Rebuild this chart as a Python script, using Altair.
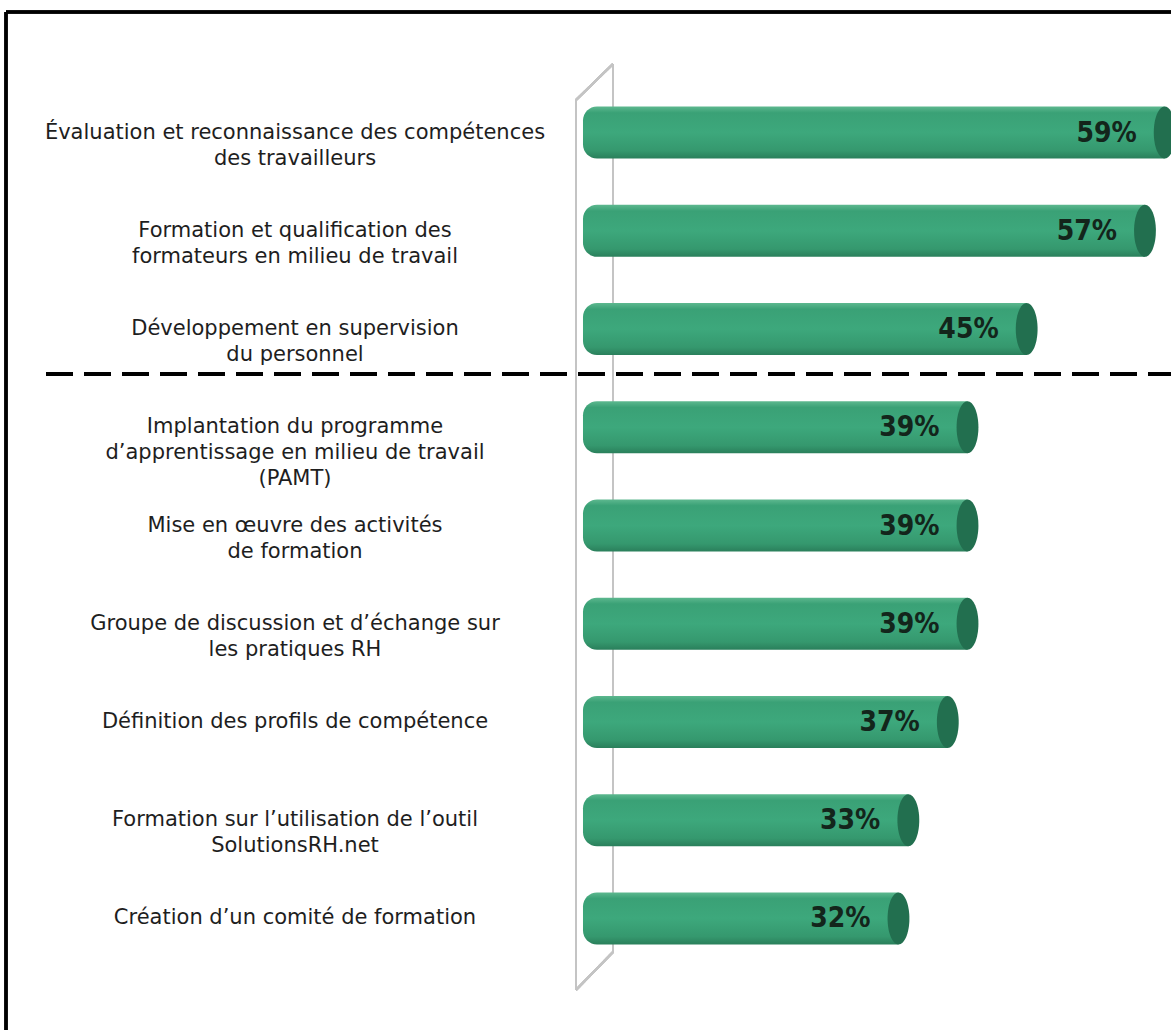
import altair as alt
import pandas as pd

categories = [
    "Évaluation et reconnaissance des compétences\ndes travailleurs",
    "Formation et qualification des\nformateurs en milieu de travail",
    "Développement en supervision\ndu personnel",
    "Implantation du programme\nd’apprentissage en milieu de travail\n(PAMT)",
    "Mise en œuvre des activités\nde formation",
    "Groupe de discussion et d’échange sur\nles pratiques RH",
    "Définition des profils de compétence",
    "Formation sur l’utilisation de l’outil\nSolutionsRH.net",
    "Création d’un comité de formation",
]
values = [59, 57, 45, 39, 39, 39, 37, 33, 32]

df = pd.DataFrame({"cat": categories, "value": values})

W, H = 1171, 1030
xscale = alt.Scale(domain=[-59.13, 59.64], nice=False, zero=False)
yscale = alt.Scale(domain=categories, range=[82, 969], paddingInner=0.47, paddingOuter=0.25)

base = alt.Chart(df)
X = alt.X("value:Q", scale=xscale, axis=None)
Y = alt.Y("cat:N", scale=yscale, axis=None, sort=categories)

grad = alt.Gradient(
    gradient="linear",
    x1=0, x2=0, y1=0, y2=1,
    stops=[
        alt.GradientStop(color="#5db88f", offset=0),
        alt.GradientStop(color="#3aa176", offset=0.12),
        alt.GradientStop(color="#3da87c", offset=0.5),
        alt.GradientStop(color="#35986e", offset=0.85),
        alt.GradientStop(color="#2a7f5b", offset=1),
    ],
)

# decorative side wall
wall_col = "#c4c4c4"
walls = [
    alt.Chart(df).mark_rule(color=wall_col, strokeWidth=2).encode(x=alt.value(576), y=alt.value(100), y2=alt.value(990)),
    alt.Chart(df).mark_rule(color=wall_col, strokeWidth=2).encode(x=alt.value(613), y=alt.value(64), y2=alt.value(952)),
    alt.Chart(df).mark_rule(color=wall_col, strokeWidth=2).encode(x=alt.value(576), x2=alt.value(613), y=alt.value(100), y2=alt.value(64)),
    alt.Chart(df).mark_rule(color=wall_col, strokeWidth=2).encode(x=alt.value(576), x2=alt.value(613), y=alt.value(990), y2=alt.value(952)),
]

bars = base.mark_bar(
    color=grad, cornerRadiusTopLeft=14, cornerRadiusBottomLeft=14
).encode(x=alt.X("zero:Q", scale=xscale, axis=None), x2="value:Q", y=Y).transform_calculate(zero="0")

cap_shape = "M0,-1 A0.42,1 0 1,1 0,1 A0.42,1 0 1,1 0,-1 Z"
caps = base.mark_point(
    shape=cap_shape, size=2704, filled=True, color="#226f4f", opacity=1
).encode(x=X, y=Y)

vals = base.transform_calculate(pct="datum.value + '%'").mark_text(
    align="right", baseline="middle", dx=-28, dy=1,
    font="DejaVu Sans Condensed", fontWeight="bold", fontSize=28, color="#13251b"
).encode(x=X, y=Y, text="pct:N")

labels = base.mark_text(
    align="center", baseline="middle", lineBreak="\n", lineHeight=26,
    font="DejaVu Sans", fontSize=21, color="#1e1e1e"
).encode(x=alt.value(295), y=Y, text="cat:N")

dash = alt.Chart(df).mark_rule(color="#000000", strokeWidth=4, strokeDash=[27, 11]).encode(
    x=alt.value(46), x2=alt.value(W), y=alt.value(374)
)

frame_top = alt.Chart(df).mark_rule(color="#000000", strokeWidth=2.5).encode(
    x=alt.value(6), x2=alt.value(W), y=alt.value(12)
)
frame_left = alt.Chart(df).mark_rule(color="#000000", strokeWidth=2.5).encode(
    x=alt.value(6), y=alt.value(12), y2=alt.value(H)
)

chart = alt.layer(
    *walls, bars, caps, vals, labels, dash, frame_top, frame_left
).properties(
    width=W, height=H,
    autosize=alt.AutoSizeParams(type="none"),
    padding=0,
    background="white",
).configure_view(stroke=None)

chart.save("out.html", embed_options={"renderer": "svg", "actions": False})
